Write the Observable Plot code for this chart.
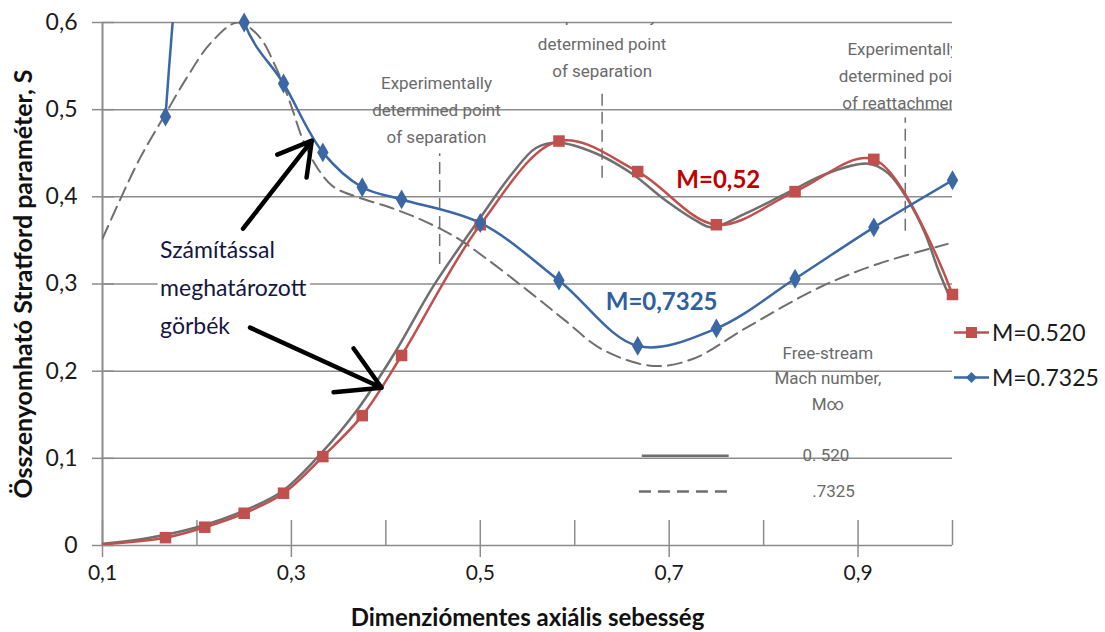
<!DOCTYPE html>
<html>
<head>
<meta charset="utf-8">
<script src="https://cdn.jsdelivr.net/npm/d3@7"></script>
<script src="https://cdn.jsdelivr.net/npm/@observablehq/plot@0.6"></script>
<style>
  html, body { margin: 0; padding: 0; background: #fff; }
  #wrap { position: relative; width: 1105px; height: 632px; overflow: hidden; }
  #legend { position: absolute; left: 953px; top: 312px; font-family: Lato, "Noto Sans", sans-serif; font-size: 23px; color: #1a1a1a; }
  #legend .row { display: flex; align-items: center; height: 40px; margin-bottom: 5px; }
  #legend svg { margin-right: 2px; }
</style>
</head>
<body>
<div id="wrap">
  <div id="chart"></div>
  <div id="legend"></div>
</div>
<script>
// ---- Data ----
const redName = "M=0.520";
const blueName = "M=0.7325";
const redX = [0.0833, 0.1667, 0.2083, 0.25, 0.2917, 0.3333, 0.375, 0.4167, 0.5, 0.5833, 0.6667, 0.75, 0.8333, 0.9167, 1.0];
const redY = [0.0, 0.009, 0.021, 0.037, 0.060, 0.102, 0.149, 0.218, 0.368, 0.464, 0.429, 0.368, 0.406, 0.443, 0.288];
const blueX = [0.1667, 0.2083, 0.25, 0.2917, 0.3333, 0.375, 0.4167, 0.5, 0.5833, 0.6667, 0.75, 0.8333, 0.9167, 1.0];
const blueY = [0.492, 0.90, 0.600, 0.530, 0.451, 0.411, 0.397, 0.370, 0.304, 0.229, 0.249, 0.306, 0.365, 0.419];

// scanned reference curves (gray): solid = 0.520, dashed = 0.7325
const solidX = [0.1, 0.15, 0.2, 0.25, 0.29, 0.33, 0.37, 0.41, 0.45, 0.5, 0.534, 0.559, 0.583, 0.622, 0.66, 0.696, 0.728, 0.745, 0.781, 0.826, 0.868, 0.911, 0.932, 0.953, 0.971, 0.984, 0.995];
const solidY = [0.002, 0.009, 0.021, 0.040, 0.062, 0.104, 0.156, 0.222, 0.297, 0.376, 0.427, 0.456, 0.462, 0.450, 0.427, 0.396, 0.373, 0.365, 0.381, 0.405, 0.427, 0.438, 0.427, 0.396, 0.358, 0.319, 0.290];
const dashX = [0.10, 0.12, 0.14, 0.165, 0.19, 0.215, 0.243, 0.265, 0.283, 0.298, 0.312, 0.327, 0.344, 0.369, 0.404, 0.439, 0.475, 0.509, 0.552, 0.590, 0.629, 0.683, 0.725, 0.782, 0.859, 0.921, 0.995];
const dashY = [0.352, 0.400, 0.445, 0.492, 0.538, 0.577, 0.600, 0.585, 0.550, 0.510, 0.466, 0.434, 0.412, 0.400, 0.388, 0.373, 0.353, 0.327, 0.291, 0.258, 0.225, 0.206, 0.214, 0.250, 0.296, 0.323, 0.346];

// tick values
const xTickLabels = [0.1, 0.3, 0.5, 0.7, 0.9];
const xMinorTicks = [0.1, 0.2, 0.3, 0.4, 0.5, 0.6, 0.7, 0.8, 0.9, 1.0];
const yTicks = [0, 0.1, 0.2, 0.3, 0.4, 0.5, 0.6];

// annotations (scanned figure)
const sepTexts = ["Experimentally\ndetermined point\nof separation", "Experimentally\ndetermined point\nof separation", "Experimentally\ndetermined point\nof reattachment"];
const sepTextX = [0.4536, 0.629, 0.9475];
const sepTextY = [0.503, 0.579, 0.542];
const sepLineX = [0.457, 0.629, 0.95];
const sepLineY1 = [0.323, 0.422, 0.361];
const sepLineY2 = [0.450, 0.522, 0.491];
const freeStreamText = "Free-stream\nMach number,\nM\u221E";
const freeStreamPos = [0.868, 0.1945];
const scanLegendLabels = ["0. 520", ".7325"];
const scanLegendX1 = [0.671, 0.668];
const scanLegendX2 = [0.763, 0.763];
const scanLegendY = [0.103, 0.062];
const scanLegendLabelX = [0.866, 0.874];

// callouts
const calloutText = "Számítással\nmeghatározott\ngörbék";
const calloutPos = [0.161, 0.300];
const arrowX1 = [0.2488, 0.2562];
const arrowY1 = [0.3635, 0.250];
const arrowX2 = [0.3216, 0.3955];
const arrowY2 = [0.4644, 0.181];
const seriesLabels = ["M=0,52", "M=0,7325"];
const seriesLabelX = [0.752, 0.692];
const seriesLabelY = [0.4186, 0.2787];

const xTitle = "Dimenziómentes axiális sebesség";
const yTitle = "Összenyomható Stratford paraméter, S";

// ---- build tables ----
const red = redX.map((x, i) => ({x, y: redY[i]}));
const blue = blueX.map((x, i) => ({x, y: blueY[i]}));
const solid = solidX.map((x, i) => ({x, y: solidY[i]}));
const dash = dashX.map((x, i) => ({x, y: dashY[i]}));
const inFrame = d => d.x >= 0.1 && d.y <= 0.6;
const sepText = sepTexts.map((t, i) => ({t, x: sepTextX[i], y: sepTextY[i]}));
const sepLines = sepLineX.map((x, i) => ({x, y1: sepLineY1[i], y2: sepLineY2[i]}));
const scanLeg = scanLegendLabels.map((t, i) => ({t, x1: scanLegendX1[i], x2: scanLegendX2[i], y: scanLegendY[i], lx: scanLegendLabelX[i]}));
const arrows = arrowX1.map((x1, i) => ({x1, y1: arrowY1[i], x2: arrowX2[i], y2: arrowY2[i]}));
const sLabels = seriesLabels.map((t, i) => ({t, x: seriesLabelX[i], y: seriesLabelY[i]}));

const fmt = d => d === 0 ? "0" : d.toFixed(1).replace(".", ",");

const RED = "#c0504d", BLUE = "#3b67a5", GRAY = "#6f6f6f", GRID = "#8c8c8c";
const FONT = "Lato, 'Noto Sans', sans-serif";
const SCANFONT = "Roboto, 'Liberation Sans', sans-serif";

const chart = Plot.plot({
  width: 1105,
  height: 632,
  marginLeft: 102,
  marginRight: 153,
  marginTop: 22,
  marginBottom: 87,
  style: {fontFamily: FONT, background: "white", overflow: "visible"},
  x: {domain: [0.1, 1.0]},
  y: {domain: [0, 0.6]},
  marks: [
    Plot.gridY(yTicks, {stroke: GRID, strokeOpacity: 1, strokeWidth: 1.5}),
    Plot.ruleX([0.1], {stroke: GRID, strokeWidth: 2}),
    Plot.axisX(xMinorTicks, {tickSize: -25, tickFormat: () => "", stroke: GRID, strokeWidth: 1.5, label: null}),
    Plot.axisX(xTickLabels, {tickSize: 12, tickPadding: 8, tickFormat: fmt, fontSize: 21, stroke: GRID, strokeWidth: 1.5, fill: "#1a1a1a", label: null}),
    Plot.axisY(yTicks, {tickSize: -12, tickFormat: () => "", stroke: GRID, strokeWidth: 1.5, label: null}),
    Plot.axisY(yTicks, {tickSize: 10, tickPadding: 15, tickFormat: fmt, fontSize: 23, stroke: GRID, strokeWidth: 1.5, fill: "#1a1a1a", label: null}),
    Plot.text([xTitle], {frameAnchor: "bottom", dy: 80, lineAnchor: "bottom", textAnchor: "middle", fontSize: 24, fontWeight: "bold", fill: "#111"}),
    Plot.text([yTitle], {frameAnchor: "left", dx: -79, rotate: -90, textAnchor: "middle", fontSize: 25, fontWeight: "bold", fill: "#111"}),

    // scanned annotations
    Plot.text(sepText, {x: "x", y: "y", text: "t", fontFamily: SCANFONT, fontSize: 17, fill: "#6a6a6a", lineHeight: 1.6, clip: true}),
    Plot.link(sepLines, {x1: "x", x2: "x", y1: "y1", y2: "y2", stroke: GRAY, strokeWidth: 1.5, strokeDasharray: "12,6"}),
    Plot.text([freeStreamText], {x: freeStreamPos[0], y: freeStreamPos[1], fontFamily: SCANFONT, fontSize: 17, fill: "#6a6a6a", lineHeight: 1.5}),
    Plot.link(scanLeg.slice(0, 1), {x1: "x1", x2: "x2", y1: "y", y2: "y", stroke: GRAY, strokeWidth: 2.5}),
    Plot.link(scanLeg.slice(1), {x1: "x1", x2: "x2", y1: "y", y2: "y", stroke: GRAY, strokeWidth: 2.5, strokeDasharray: "12,7"}),
    Plot.text(scanLeg, {x: "lx", y: "y", text: "t", fontFamily: SCANFONT, fontSize: 17, fill: "#6a6a6a"}),

    // scanned curves
    Plot.line(solid, {x: "x", y: "y", curve: "catmull-rom", stroke: GRAY, strokeWidth: 2.5, clip: true}),
    Plot.line(dash, {x: "x", y: "y", curve: "catmull-rom", stroke: GRAY, strokeWidth: 2, strokeDasharray: "14,7", clip: true}),

    // computed series
    Plot.line(red, {x: "x", y: "y", curve: "catmull-rom", stroke: RED, strokeWidth: 2.5, clip: true}),
    Plot.line(blue, {x: "x", y: "y", curve: "catmull-rom", stroke: BLUE, strokeWidth: 2.5, clip: true}),
    Plot.dot(red.filter(inFrame), {x: "x", y: "y", symbol: "square", r: 6.5, fill: RED, stroke: "none"}),
    Plot.dot(blue.filter(inFrame), {x: "x", y: "y", symbol: "diamond", r: 6, fill: BLUE, stroke: "none"}),

    // callouts
    Plot.text([calloutText], {x: calloutPos[0], y: calloutPos[1], textAnchor: "start", fontSize: 23, lineHeight: 1.65, fill: "#15163f", stroke: "white", strokeWidth: 8}),
    Plot.arrow(arrows, {x1: "x1", y1: "y1", x2: "x2", y2: "y2", stroke: "black", strokeWidth: 4.5, headLength: 22}),
    Plot.text(sLabels, {x: "x", y: "y", text: "t", fontSize: 24, fontWeight: "bold", fill: (d, i) => i === 0 ? "#c00000" : "#2f5f9f"})
  ]
});
document.getElementById("chart").appendChild(chart);

// legend
const legend = document.getElementById("legend");
[[redName, RED, "square"], [blueName, BLUE, "diamond"]].forEach(([name, color, shape]) => {
  const row = document.createElement("div");
  row.className = "row";
  const sym = shape === "square"
    ? `<rect x="13" y="6" width="11" height="11" fill="${color}"/>`
    : `<path d="M18.5,6 L24,11.5 L18.5,17 L13,11.5 Z" fill="${color}"/>`;
  row.innerHTML = `<svg width="37" height="23"><line x1="1" x2="36" y1="11.5" y2="11.5" stroke="${color}" stroke-width="2.5"/>${sym}</svg><span>${name}</span>`;
  legend.appendChild(row);
});
</script>
</body>
</html>
